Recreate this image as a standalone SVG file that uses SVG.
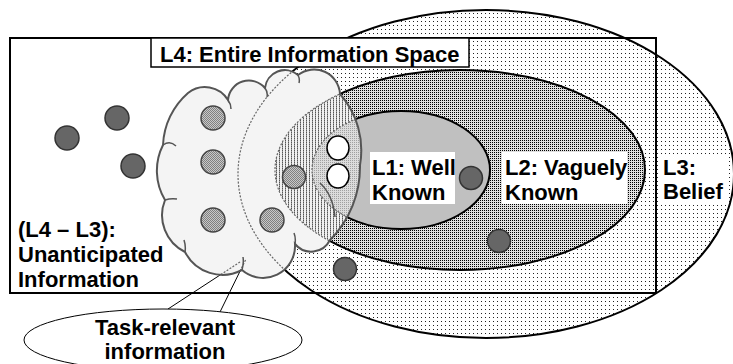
<svg xmlns="http://www.w3.org/2000/svg" width="733" height="364" viewBox="0 0 733 364">
<style>
.t{font-family:"Liberation Sans",Arial,sans-serif;font-weight:bold;font-size:22px;fill:#000}
.edge{fill:none;stroke:#000;stroke-width:2}
.inner{fill:none;stroke:#666;stroke-width:1.2;stroke-dasharray:2 1.5}
.dark{fill:#666;stroke:#333;stroke-width:1.5}
.grey{fill:url(#pDot);stroke:#444;stroke-width:1.5}
.white{fill:#fff;stroke:#000;stroke-width:1.5}
.hook{fill:none;stroke:#555;stroke-width:1.5}
.box{fill:#fff;stroke:none}
</style>
<defs>
<pattern id="pL3" width="4" height="4" patternUnits="userSpaceOnUse"><rect width="4" height="4" fill="#fff"/><rect x="1" y="1" width="1" height="1" fill="#222"/></pattern>
<pattern id="pL2" width="2" height="2" patternUnits="userSpaceOnUse"><rect width="2" height="2" fill="#e0e0e0"/><rect width="1" height="1" fill="#000"/></pattern>
<pattern id="pHatch" width="3" height="2" patternUnits="userSpaceOnUse"><rect width="3" height="2" fill="#f0f0f0"/><rect width="1" height="1" fill="#555"/><rect y="1" width="1" height="1" fill="#999"/></pattern>
<pattern id="pL1c" width="2" height="2" patternUnits="userSpaceOnUse"><rect width="2" height="2" fill="#dcdcdc"/><rect width="1" height="1" fill="#a0a0a0"/></pattern>
<pattern id="pDot" width="2" height="2" patternUnits="userSpaceOnUse"><rect width="2" height="2" fill="#c8c8c8"/><rect width="1" height="1" fill="#808080"/><rect x="1" y="1" width="1" height="1" fill="#808080"/></pattern>
<path id="cloudPath" d="M165,200 A57,57 0 0 1 163,145 A73,73 0 0 1 188,93 A27,27 0 0 1 228,100 A21,21 0 0 1 265,88 A20,20 0 0 1 298,75 A26,26 0 0 1 340,94 A85,85 0 0 1 360,165 A104,104 0 0 1 330,240 A21,21 0 0 1 295,244 A32,32 0 0 1 242,270 A42,42 0 0 1 185,252 A41,41 0 0 1 165,200 Z"/>
<clipPath id="cloudClip"><use href="#cloudPath"/></clipPath>
</defs>

<g id="L3">
<ellipse cx="486" cy="174" rx="248" ry="164" fill="url(#pL3)" stroke="#000" stroke-width="2"/>
</g>
<g id="L4">
<rect x="10" y="38" width="646" height="255" class="edge"/>
</g>
<g id="L2">
<ellipse cx="460" cy="170" rx="185" ry="100" fill="url(#pL2)" stroke="#000" stroke-width="2"/>
</g>
<g id="L1">
<ellipse cx="401" cy="170" rx="89" ry="59" fill="#c0c0c0" stroke="#000" stroke-width="2"/>
</g>

<g id="connectors">
<line x1="168" y1="309" x2="240" y2="262" stroke="#000" stroke-width="1"/>
<line x1="220" y1="312" x2="246" y2="259" stroke="#000" stroke-width="1"/>
</g>

<g id="cloud">
<use href="#cloudPath" fill="#f4f4f4"/>
<g clip-path="url(#cloudClip)">
<ellipse cx="460" cy="170" rx="185" ry="100" fill="url(#pHatch)"/>
<ellipse cx="401" cy="170" rx="89" ry="59" fill="url(#pL1c)"/>
<ellipse cx="486" cy="174" rx="248" ry="164" class="inner"/>
<ellipse cx="460" cy="170" rx="185" ry="100" class="inner"/>
<ellipse cx="401" cy="170" rx="89" ry="59" class="inner"/>
<line x1="168" y1="309" x2="240" y2="262" class="inner"/>
<line x1="220" y1="312" x2="246" y2="259" class="inner"/>
</g>
<use href="#cloudPath" fill="none" stroke="#555" stroke-width="2"/>
<path class="hook" d="M163,145 Q170,140 176,146 M228,100 Q231,104 231,109 M265,88 Q268,92 267,97 M298,75 Q300,79 299,83 M295,244 Q296,238 294,233 M242,270 Q244,263 243,257 M185,252 Q186,246 184,240 M165,200 Q171,198 177,199 M335,217 Q333,195 320,183"/>
</g>

<g id="points">
<circle cx="67" cy="138" r="12" class="dark"/>
<circle cx="117" cy="118" r="12" class="dark"/>
<circle cx="133" cy="166" r="12" class="dark"/>
<circle cx="471" cy="178" r="11.5" class="dark"/>
<circle cx="499" cy="241" r="11.5" class="dark"/>
<circle cx="345" cy="269" r="11.5" class="dark"/>
<circle cx="213" cy="118" r="12" class="grey"/>
<circle cx="213" cy="162" r="12" class="grey"/>
<circle cx="213" cy="220" r="12" class="grey"/>
<circle cx="272" cy="220" r="12" class="grey"/>
<circle cx="294" cy="177" r="11.5" class="grey"/>
<ellipse cx="338" cy="148" rx="11" ry="12" class="white"/>
<ellipse cx="338" cy="176" rx="11" ry="12" class="white"/>
</g>

<g id="label-L4">
<rect x="151" y="38" width="318" height="29" fill="#fff" stroke="#000" stroke-width="1.5"/>
<text x="160" y="62" class="t">L4: Entire Information Space</text>
</g>
<g id="label-L1">
<rect x="370" y="152" width="85" height="52" class="box"/>
<text x="372" y="175" class="t">L1: Well</text>
<text x="372" y="200" class="t">Known</text>
</g>
<g id="label-L2">
<rect x="502" y="152" width="125" height="52" class="box"/>
<text x="505" y="175" class="t">L2: Vaguely</text>
<text x="505" y="200" class="t">Known</text>
</g>
<g id="label-L3">
<rect x="658" y="157" width="70" height="46" class="box"/>
<text x="663" y="175" class="t">L3:</text>
<text x="663" y="199" class="t">Belief</text>
</g>
<g id="label-unanticipated">
<text x="18" y="237" class="t">(L4 – L3):</text>
<text x="18" y="262" class="t">Unanticipated</text>
<text x="18" y="287" class="t">Information</text>
</g>
<g id="task-relevant">
<ellipse cx="163" cy="340" rx="139" ry="31" fill="#fff" stroke="#000" stroke-width="1"/>
<text x="165" y="335" class="t" text-anchor="middle">Task-relevant</text>
<text x="165" y="359" class="t" text-anchor="middle">information</text>
</g>
</svg>
